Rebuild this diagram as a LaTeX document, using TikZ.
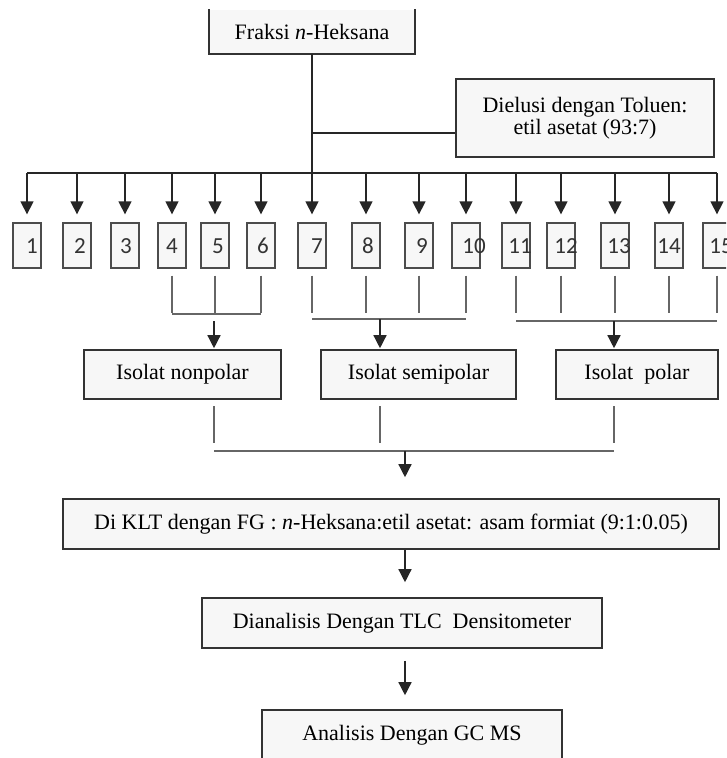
\documentclass[tikz,border=0pt]{standalone}
\usepackage{fontspec}
\setmainfont{Liberation Serif}
\newfontfamily\numfont{Carlito}
\usetikzlibrary{arrows.meta}
\tikzset{
  box/.style={draw=black!80, line width=1.6pt, fill=black!3, inner sep=0pt, text=black,
    font=\fontsize{22}{22}\selectfont, align=center},
  numbox/.style={draw=black!70, line width=1.3pt, fill=black!3, minimum width=28pt, minimum height=45pt, inner sep=0pt},
  numtxt/.style={inner sep=0pt, font=\numfont\fontsize{23}{23}\selectfont, text=black!80},
  conn/.style={draw=black!85, line width=1.4pt},
  arr/.style={conn, -{Triangle[width=13pt,length=13pt]}},
  tick/.style={draw=black!60, line width=1.4pt},
}
\begin{document}
\begin{tikzpicture}[x=1pt,y=-1pt]
\useasboundingbox (0,0) rectangle (726,758);
\clip (0,0) rectangle (726,758);
\fill[white] (0,0) rectangle (726,758);

% top box (top edge cut off)
\node[box, draw=none, minimum width=204pt, minimum height=43pt] (fraksi) at (312,31.5) {Fraksi \textit{n}-Heksana};
\draw[black!80, line width=1.6pt] (fraksi.north west) -- (fraksi.south west) -- (fraksi.south east) -- (fraksi.north east);

\node[box, minimum width=258pt, minimum height=78pt] (elusi) at (585,118)
  {Dielusi dengan Toluen:\\[0pt]etil asetat (93:7)};

\coordinate (busL) at (27,173);
\coordinate (busR) at (717,173);
\coordinate (branch) at (312,133);
\draw[conn] (fraksi.south) -- (branch |- busL);
\draw[conn] (branch) -- (branch -| elusi.west);
\draw[conn] (busL) -- (busR);

% numbered fractions
\foreach \i/\bx/\tx in {1/27/32, 2/77/80, 3/125/126, 4/172/172, 5/215/218, 6/261/263, 7/312/317,
  8/366/368, 9/419/422, 10/466/474, 11/516/520, 12/561/566, 13/615/619, 14/669/669, 15/717/721}{
  \node[numbox] (n\i) at (\bx,245.5) {};
  \node[numtxt] (t\i) at (\tx,246) {\i};
  \draw[arr, shorten >=8pt] (n\i.north |- busL) -- (n\i.north);
}

% grouping ticks
\coordinate (g1) at (0,314);
\coordinate (g2) at (0,319);
\coordinate (g3) at (0,321);
\coordinate (tickend) at (0,313);
\foreach \i in {4,5,...,15}{
  \draw[tick] ([yshift=-7pt]n\i.south) -- (n\i.south |- tickend);
}
\draw[tick] (n4.south |- g1) -- (n6.south |- g1);
\draw[tick] (n7.south |- g2) -- (n10.south |- g2);
\draw[tick] (n11.south |- g3) -- (n15.south |- g3);

% isolates
\node[box, minimum width=197pt, minimum height=49pt] (nonpolar) at (182.5,374.5) {Isolat nonpolar};
\node[box, minimum width=195pt, minimum height=49pt] (semipolar) at (418.5,374.5) {Isolat semipolar};
\node[box, minimum width=162pt, minimum height=49pt] (polar) at (637,374.5) {Isolat\ \ polar};

\coordinate (a1) at (214,321);
\coordinate (a2) at (380,319);
\coordinate (a3) at (614,321);
\draw[arr, shorten >=1pt] (a1) -- (a1 |- nonpolar.north);
\draw[arr, shorten >=1pt] (a2) -- (a2 |- semipolar.north);
\draw[arr, shorten >=1pt] (a3) -- (a3 |- polar.north);

\coordinate (b1) at (214,406);
\coordinate (b2) at (380,406);
\coordinate (b3) at (614,406);
\coordinate (bend) at (0,443);
\coordinate (bbar) at (0,451);
\draw[tick] (b1) -- (b1 |- bend);
\draw[tick] (b2) -- (b2 |- bend);
\draw[tick] (b3) -- (b3 |- bend);
\draw[tick] (b1 |- bbar) -- (b3 |- bbar);

% final steps
\node[box, minimum width=656pt, minimum height=50pt] (klt) at (391,524)
  {Di KLT dengan FG : \textit{n}-Heksana:etil asetat: asam formiat (9:1:0.05)};
\node[box, minimum width=400pt, minimum height=50pt] (tlc) at (402,623)
  {Dianalisis Dengan TLC\ \ Densitometer};
\node[box, minimum width=300pt, minimum height=50pt] (gcms) at (412,735)
  {Analisis Dengan GC MS};

\coordinate (m) at (405,451);
\draw[arr, shorten >=21pt] (m) -- (m |- klt.north);
\draw[arr, shorten >=15pt] (m |- klt.south) -- (m |- tlc.north);
\draw[arr, shorten <=12pt, shorten >=14pt] (m |- tlc.south) -- (m |- gcms.north);
\end{tikzpicture}
\end{document}
